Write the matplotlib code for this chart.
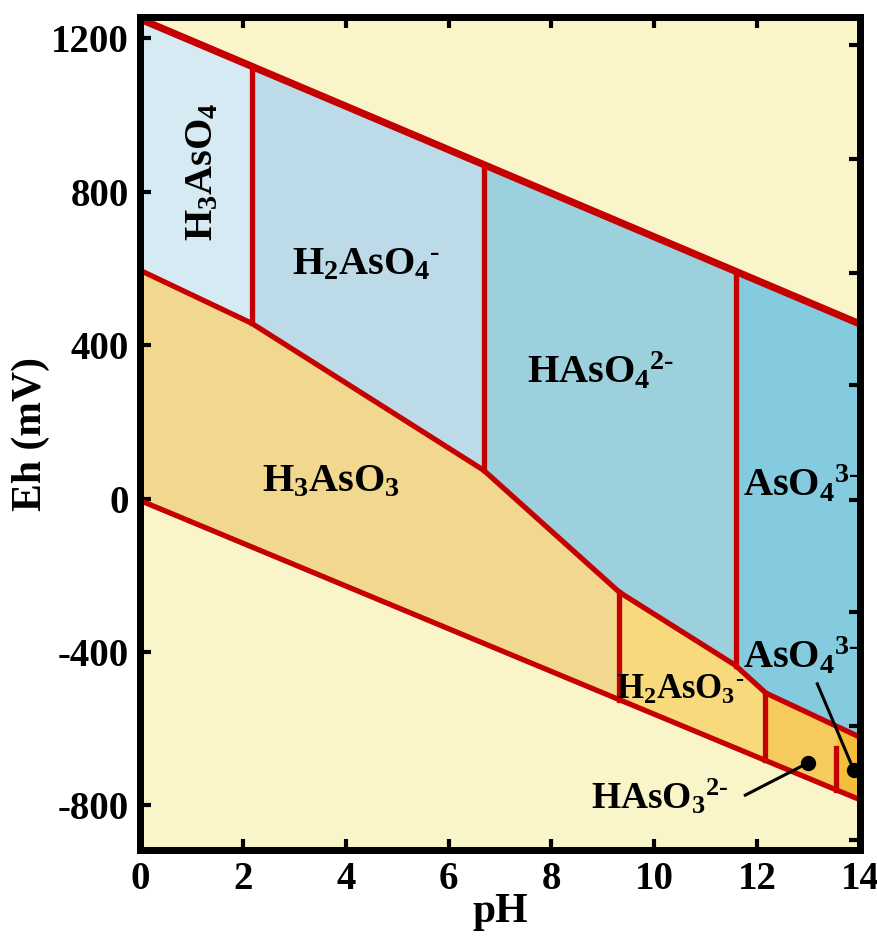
import numpy as np
import matplotlib
matplotlib.use("Agg")
import matplotlib.pyplot as plt

plt.rcParams['font.family'] = ['Liberation Serif', 'DejaVu Serif']
plt.rcParams['font.weight'] = 'bold'
plt.rcParams['axes.unicode_minus'] = False
plt.rcParams['mathtext.fontset'] = 'custom'
plt.rcParams['mathtext.rm'] = 'Liberation Serif:bold'
plt.rcParams['mathtext.it'] = 'Liberation Serif:bold'
plt.rcParams['mathtext.bf'] = 'Liberation Serif:bold'

# water stability lines (pH, Eh mV)
water_ph = [0, 14]
water_upper = [1250, 455]
water_lower = [-5, -785]

# As(V) / As(III) boundary
redox_ph = [0, 2.17, 6.68, 9.32, 11.57, 12.17, 14]
redox_eh = [595, 457, 74, -244, -434, -507, -622]

# vertical (acid-base) boundaries
arsenate_pk = [2.17, 6.68, 11.59]
arsenite_pk = [9.32, 12.16, 13.53]
last_top = -650   # short top of the last arsenite boundary

arsenate_names = [r'$H_3AsO_4$', r'$H_2AsO_4{}^{\text{-}}$',
                  r'$HAsO_4{}^{2\text{-}}$', r'$AsO_4{}^{3\text{-}}$']
arsenite_names = [r'$H_3AsO_3$', r'$H_2AsO_3{}^{\text{-}}$',
                  r'$HAsO_3{}^{2\text{-}}$', r'$AsO_4{}^{3\text{-}}$']
arsenate_colors = ['#D6EAF4', '#BCDAE7', '#9DD0DD', '#85CBE0']
arsenite_colors = ['#F2D88E', '#F8DA7C', '#F6CB5E', '#F4BD3C']

left_ticks = [-800, -400, 0, 400, 800, 1200]
right_ticks = [1182, 885, 588, 295, -4, -296, -593, -890]
ph_ticks = [0, 2, 4, 6, 8, 10, 12, 14]

red = '#C40000'

def upper(x):
    return np.interp(x, water_ph, water_upper)

def lower(x):
    return np.interp(x, water_ph, water_lower)

def redox(x):
    return np.interp(x, redox_ph, redox_eh)

fig = plt.figure(figsize=(8.78, 9.39), dpi=100)
ax = fig.add_axes([0.1595, 0.0948, 0.820, 0.887])
ax.set_facecolor('#FAF4C9')

# fill regions
ox_edges = [0] + arsenate_pk + [14]
for i in range(4):
    x = np.linspace(ox_edges[i], ox_edges[i + 1], 200)
    ax.fill_between(x, redox(x), upper(x), color=arsenate_colors[i], lw=0)
red_edges = [0] + arsenite_pk + [14]
for i in range(4):
    x = np.linspace(red_edges[i], red_edges[i + 1], 200)
    ax.fill_between(x, lower(x), redox(x), color=arsenite_colors[i], lw=0)

# boundary lines
ax.plot(water_ph, water_upper, color=red, lw=5.2, solid_capstyle='butt', zorder=3)
ax.plot(water_ph, water_lower, color=red, lw=3.8, solid_capstyle='butt', zorder=3)
ax.plot(redox_ph, redox_eh, color=red, lw=3.8, zorder=3)
for p in arsenate_pk:
    ax.plot([p, p], [redox(p), upper(p)], color=red, lw=3.8, zorder=3)
for j, p in enumerate(arsenite_pk):
    top = redox(p) if j < 2 else last_top
    ax.plot([p, p], [lower(p), top], color=red, lw=3.8, zorder=3)

# labels
fs = 29
ax.text(1.23, 850, arsenate_names[0], fontsize=fs, rotation=90, ha='center', va='center')
ax.text(4.4, 610, arsenate_names[1], fontsize=fs, ha='center', va='center')
ax.text(8.95, 330, arsenate_names[2], fontsize=fs, ha='center', va='center')
ax.text(12.85, 35, arsenate_names[3], fontsize=fs, ha='center', va='center', zorder=2)
ax.text(3.7, 45, arsenite_names[0], fontsize=fs, ha='center', va='center')
ax.text(10.5, -500, arsenite_names[1], fontsize=25, ha='center', va='center')
ax.text(10.1, -778, arsenite_names[2], fontsize=27, ha='center', va='center')
ax.text(12.85, -413, arsenite_names[3], fontsize=fs, ha='center', va='center', zorder=2)

# pointer lines with dots
ax.plot([11.77, 12.99], [-773, -689], color='black', lw=2.2, zorder=4)
ax.plot([12.99], [-689], 'o', color='black', ms=10, zorder=4)
ax.plot([13.17, 13.88], [-483, -708], color='black', lw=2.2, zorder=4)
ax.plot([13.88], [-708], 'o', color='black', ms=10, zorder=4)

ax.set_xlim(0, 14)
ax.set_ylim(-916, 1255)

ax.set_xticks(ph_ticks)
ax.set_yticks(left_ticks)
ax.tick_params(axis='both', direction='in', length=8, width=3, labelsize=28, pad=8)
ax.tick_params(axis='x', top=True)
for lab in ax.get_xticklabels() + ax.get_yticklabels():
    lab.set_fontweight('bold')

# right-hand ticks
ay = ax.twinx()
ay.set_ylim(ax.get_ylim())
ay.set_yticks(right_ticks)
ay.tick_params(axis='y', direction='in', length=8, width=3, labelright=False)

for a in (ax, ay):
    for s in a.spines.values():
        s.set_linewidth(5)

ax.set_xlabel('pH', fontsize=30, fontweight='bold')
ax.set_ylabel('Eh (mV)', fontsize=30, fontweight='bold')
ax.xaxis.set_label_coords(0.5, -0.052)
ax.yaxis.set_label_coords(-0.125, 0.5)

fig.savefig('out.png', dpi=100)
